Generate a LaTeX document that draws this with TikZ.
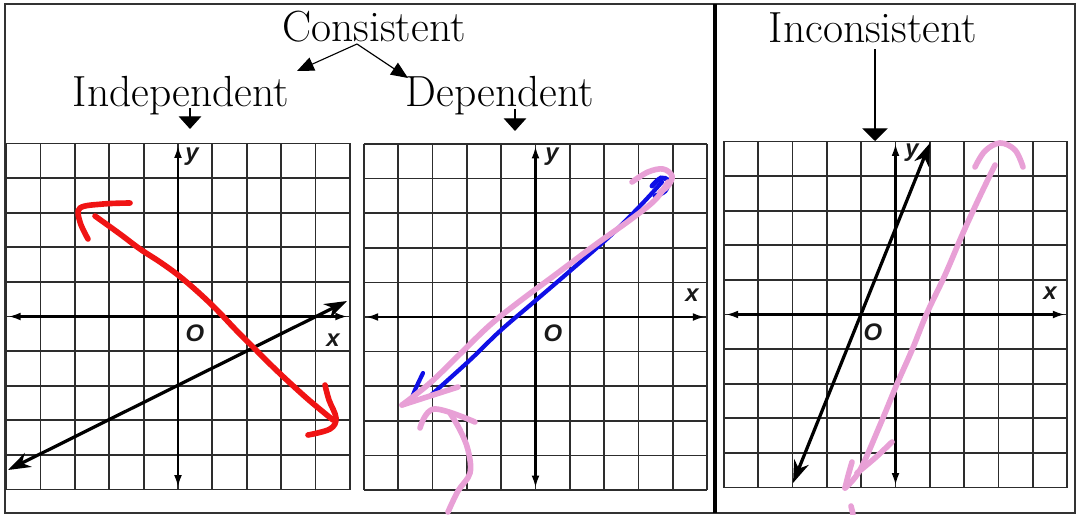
\documentclass[tikz,border=0pt]{standalone}
\usepackage{fontspec}
\newfontfamily\axisfont{Liberation Sans}
\usetikzlibrary{arrows.meta}
\definecolor{gridgray}{RGB}{45,45,45}
\definecolor{penred}{RGB}{240,20,20}
\definecolor{penpink}{RGB}{232,160,214}
\definecolor{penblue}{RGB}{15,15,230}

\begin{document}
\begin{tikzpicture}[x=0.025cm, y=-0.025cm,
    gridline/.style={draw=gridgray, line width=1.25pt},
    axisline/.style={line width=1.9pt, {Latex[length=9pt,width=5.5pt]}-{Latex[length=9pt,width=5.5pt]}},
    graphline/.style={line width=2.3pt, {Stealth[length=16pt,width=11pt,inset=5pt]}-{Stealth[length=16pt,width=11pt,inset=5pt]}},
    penline/.style={line width=4pt, line cap=round, line join=round},
    headtext/.style={font=\fontsize{31}{36}\selectfont, anchor=base, inner sep=0pt},
    axlabel/.style={font=\axisfont\bfseries\itshape\fontsize{17}{19}\selectfont, inner sep=0pt, text=black!90},
    thinarrow/.style={line width=0.8pt, -{Triangle[length=12pt,width=10pt]}},
    downarrow/.style={line width=0.8pt, -{Triangle[length=9pt,width=16pt]}}]
  \useasboundingbox (0,0) rectangle (1078,514);

  % Rahmen und Trennlinie
  \draw[line width=1.8pt, draw=black!80] (5,4) rectangle (1075,513);
  \draw[line width=3.2pt] (715,4) -- (715,513);

  % drei Koordinatengitter
  \foreach \gx/\gy in {178/316.5, 535.5/317, 895.5/314.5}{
    \begin{scope}[shift={(\gx,\gy)}, x=0.859cm, y=0.865cm]
      \draw[gridline, step=1] (-5,-5) grid (5,5);
      \draw[axisline] (-4.95,0) -- (4.95,0);
      \draw[axisline] (0,-4.95) -- (0,4.95);
    \end{scope}
  }

  % Ueberschriften
  \node[headtext] (consistent) at (374,41) {Consistent};
  \node[headtext] (indep) at (181,106) {Independent};
  \node[headtext] (dep) at (500,106) {Dependent};
  \node[headtext] (incons) at (873,42) {Inconsistent};

  \coordinate (split) at (357,44);
  \coordinate (indep-tip) at (297,71);
  \coordinate (dep-tip) at (408,78);
  \draw[thinarrow] (split) -- (indep-tip);
  \draw[thinarrow] (split) -- (dep-tip);

  \coordinate (indep-top) at (190,108);
  \coordinate (indep-end) at (190,129);
  \coordinate (dep-top) at (515,109);
  \coordinate (dep-end) at (515,131);
  \coordinate (incons-top) at (875,49);
  \coordinate (incons-end) at (875,141);
  \draw[downarrow] (indep-top) -- (indep-end);
  \draw[downarrow] (dep-top) -- (dep-end);
  \draw[downarrow, -{Triangle[length=9pt,width=18pt]}] (incons-top) -- (incons-end);

  % Achsenbeschriftungen
  \node[axlabel] (ya) at (192,157) {y};
  \node[axlabel] (oa) at (195,333) {O};
  \node[axlabel] (xa) at (333,340) {x};
  \node[axlabel] (yb) at (552,157) {y};
  \node[axlabel] (ob) at (553,333) {O};
  \node[axlabel] (xb) at (692,295) {x};
  \node[axlabel] (yc) at (912,153) {y};
  \node[axlabel] (oc) at (873,332) {O};
  \node[axlabel] (xc) at (1050,293) {x};

  % gedruckte Geraden
  \draw[graphline] (8,470) -- (347,301);
  \draw[graphline] (793,483) -- (930,143);

  % Freihand: rot (Gitter 1)
  \draw[penline, penred] plot[smooth, tension=0.6] coordinates {(95,216) (120,234) (140,249) (160,262) (178,275) (198,292) (217,310) (235,329) (253,347) (272,366) (290,383) (310,401) (333,420)};
  \draw[penline, penred] plot[smooth, tension=0.6] coordinates {(130,203) (103,204) (80,208) (80,222) (88,239)};
  \draw[penline, penred] plot[smooth, tension=0.6] coordinates {(325,385) (329,400) (336,418) (330,429) (308,435)};

  % Freihand: blau und rosa (Gitter 2)
  \draw[line width=3pt, penblue, line cap=round] plot[smooth, tension=0.6] coordinates {(430,396) (470,360) (500,331) (535,301) (570,271) (610,236) (640,206) (662,182)};
  \draw[line width=3.5pt, penblue, line cap=round] plot[smooth, tension=0.6] coordinates {(652,186) (661,178) (668,181) (665,191) (655,196)};
  \draw[line width=3pt, penblue, line cap=round] plot[smooth, tension=0.6] coordinates {(423,373) (415,390) (410,403)};
  \draw[penline, penpink] plot[smooth, tension=0.6] coordinates {(402,405) (430,383) (460,354) (490,325) (520,301) (555,275) (595,245) (630,220) (655,200) (668,182)};
  \draw[penline, penpink] plot[smooth, tension=0.6] coordinates {(632,182) (648,172) (663,169) (672,176) (668,186) (660,192)};
  \draw[penline, penpink] plot[smooth, tension=0.6] coordinates {(458,387) (430,396) (402,405)};
  \draw[penline, penpink] plot[smooth, tension=0.6] coordinates {(420,428) (434,409) (475,422)};
  \draw[penline, penpink] plot[smooth, tension=0.6] coordinates {(448,512) (458,491) (470,473) (468,450) (460,430) (450,413)};

  % Freihand: rosa (Gitter 3)
  \draw[penline, penpink] plot[smooth, tension=0.6] coordinates {(995,165) (980,196) (963,233) (945,275) (927,313) (912,350) (897,384) (880,425) (860,470) (845,488)};
  \draw[penline, penpink] plot[smooth, tension=0.6] coordinates {(975,167) (985,151) (1000,143) (1015,150) (1023,167)};
  \draw[penline, penpink] plot[smooth, tension=0.6] coordinates {(852,462) (848,476) (845,488)};
  \draw[penline, penpink] plot[smooth, tension=0.6] coordinates {(892,442) (875,458) (857,473)};
  \draw[penline, penpink] (851,506) -- (853,514);
\end{tikzpicture}
\end{document}
